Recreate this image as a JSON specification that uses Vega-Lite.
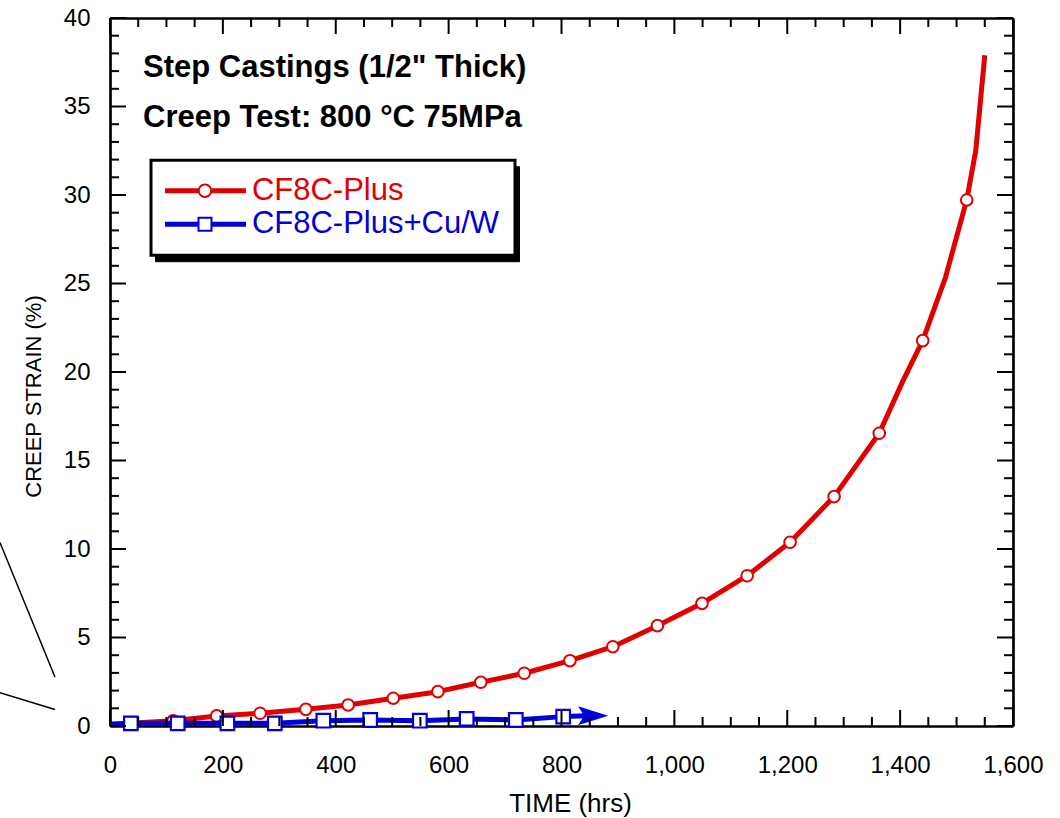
{
  "$schema": "https://vega.github.io/schema/vega-lite/v6.json",
  "width": 903,
  "height": 708,
  "autosize": {"type": "none"},
  "padding": {"left": 110, "top": 18, "right": 47, "bottom": 92},
  "background": "white",
  "config": {
    "view": {"stroke": null},
    "font": "Liberation Sans",
    "axis": {
      "grid": false,
      "domainColor": "black",
      "domainWidth": 2.7,
      "labelFont": "Liberation Sans",
      "labelFontSize": 24,
      "labelColor": "black",
      "titleColor": "black",
      "labelFlush": false,
      "labelOverlap": false
    }
  },
  "datasets": {
    "creep": [
      {"series": "CF8C-Plus", "kind": "line", "time": 0, "strain": 0.08},
      {"series": "CF8C-Plus", "kind": "marker", "time": 112, "strain": 0.3},
      {"series": "CF8C-Plus", "kind": "marker", "time": 189, "strain": 0.57},
      {"series": "CF8C-Plus", "kind": "marker", "time": 266, "strain": 0.72},
      {"series": "CF8C-Plus", "kind": "marker", "time": 347, "strain": 0.94},
      {"series": "CF8C-Plus", "kind": "marker", "time": 422, "strain": 1.19},
      {"series": "CF8C-Plus", "kind": "marker", "time": 502, "strain": 1.57},
      {"series": "CF8C-Plus", "kind": "marker", "time": 581, "strain": 1.94},
      {"series": "CF8C-Plus", "kind": "marker", "time": 657, "strain": 2.47},
      {"series": "CF8C-Plus", "kind": "marker", "time": 734, "strain": 2.98},
      {"series": "CF8C-Plus", "kind": "marker", "time": 815, "strain": 3.69},
      {"series": "CF8C-Plus", "kind": "marker", "time": 891, "strain": 4.48},
      {"series": "CF8C-Plus", "kind": "marker", "time": 970, "strain": 5.67},
      {"series": "CF8C-Plus", "kind": "marker", "time": 1049, "strain": 6.93},
      {"series": "CF8C-Plus", "kind": "marker", "time": 1129, "strain": 8.49},
      {"series": "CF8C-Plus", "kind": "marker", "time": 1205, "strain": 10.38},
      {"series": "CF8C-Plus", "kind": "marker", "time": 1283, "strain": 12.96},
      {"series": "CF8C-Plus", "kind": "marker", "time": 1363, "strain": 16.54},
      {"series": "CF8C-Plus", "kind": "line", "time": 1405, "strain": 19.5},
      {"series": "CF8C-Plus", "kind": "marker", "time": 1440, "strain": 21.77},
      {"series": "CF8C-Plus", "kind": "line", "time": 1480, "strain": 25.3},
      {"series": "CF8C-Plus", "kind": "marker", "time": 1518, "strain": 29.72},
      {"series": "CF8C-Plus", "kind": "line", "time": 1534, "strain": 32.5},
      {"series": "CF8C-Plus", "kind": "line", "time": 1550, "strain": 37.9},
      {"series": "CF8C-Plus+Cu/W", "kind": "line", "time": 0, "strain": 0.1},
      {"series": "CF8C-Plus+Cu/W", "kind": "marker", "time": 37, "strain": 0.15},
      {"series": "CF8C-Plus+Cu/W", "kind": "marker", "time": 120, "strain": 0.15},
      {"series": "CF8C-Plus+Cu/W", "kind": "marker", "time": 208, "strain": 0.15},
      {"series": "CF8C-Plus+Cu/W", "kind": "marker", "time": 292, "strain": 0.15},
      {"series": "CF8C-Plus+Cu/W", "kind": "marker", "time": 378, "strain": 0.3},
      {"series": "CF8C-Plus+Cu/W", "kind": "marker", "time": 461, "strain": 0.34},
      {"series": "CF8C-Plus+Cu/W", "kind": "marker", "time": 549, "strain": 0.3},
      {"series": "CF8C-Plus+Cu/W", "kind": "marker", "time": 632, "strain": 0.4},
      {"series": "CF8C-Plus+Cu/W", "kind": "marker", "time": 719, "strain": 0.34},
      {"series": "CF8C-Plus+Cu/W", "kind": "marker", "time": 803, "strain": 0.53},
      {"series": "CF8C-Plus+Cu/W", "kind": "line", "time": 845, "strain": 0.58},
      {"series": "CF8C-Plus+Cu/W", "kind": "arrow", "time": 856, "strain": 0.58}
    ],
    "tickvalues": [
      {"axis": "x", "value": 0, "major": true}, {"axis": "x", "value": 50, "major": false},
      {"axis": "x", "value": 100, "major": false}, {"axis": "x", "value": 150, "major": false},
      {"axis": "x", "value": 200, "major": true}, {"axis": "x", "value": 250, "major": false},
      {"axis": "x", "value": 300, "major": false}, {"axis": "x", "value": 350, "major": false},
      {"axis": "x", "value": 400, "major": true}, {"axis": "x", "value": 450, "major": false},
      {"axis": "x", "value": 500, "major": false}, {"axis": "x", "value": 550, "major": false},
      {"axis": "x", "value": 600, "major": true}, {"axis": "x", "value": 650, "major": false},
      {"axis": "x", "value": 700, "major": false}, {"axis": "x", "value": 750, "major": false},
      {"axis": "x", "value": 800, "major": true}, {"axis": "x", "value": 850, "major": false},
      {"axis": "x", "value": 900, "major": false}, {"axis": "x", "value": 950, "major": false},
      {"axis": "x", "value": 1000, "major": true}, {"axis": "x", "value": 1050, "major": false},
      {"axis": "x", "value": 1100, "major": false}, {"axis": "x", "value": 1150, "major": false},
      {"axis": "x", "value": 1200, "major": true}, {"axis": "x", "value": 1250, "major": false},
      {"axis": "x", "value": 1300, "major": false}, {"axis": "x", "value": 1350, "major": false},
      {"axis": "x", "value": 1400, "major": true}, {"axis": "x", "value": 1450, "major": false},
      {"axis": "x", "value": 1500, "major": false}, {"axis": "x", "value": 1550, "major": false},
      {"axis": "x", "value": 1600, "major": true},
      {"axis": "y", "value": 0, "major": true}, {"axis": "y", "value": 1, "major": false},
      {"axis": "y", "value": 2, "major": false}, {"axis": "y", "value": 3, "major": false},
      {"axis": "y", "value": 4, "major": false}, {"axis": "y", "value": 5, "major": true},
      {"axis": "y", "value": 6, "major": false}, {"axis": "y", "value": 7, "major": false},
      {"axis": "y", "value": 8, "major": false}, {"axis": "y", "value": 9, "major": false},
      {"axis": "y", "value": 10, "major": true}, {"axis": "y", "value": 11, "major": false},
      {"axis": "y", "value": 12, "major": false}, {"axis": "y", "value": 13, "major": false},
      {"axis": "y", "value": 14, "major": false}, {"axis": "y", "value": 15, "major": true},
      {"axis": "y", "value": 16, "major": false}, {"axis": "y", "value": 17, "major": false},
      {"axis": "y", "value": 18, "major": false}, {"axis": "y", "value": 19, "major": false},
      {"axis": "y", "value": 20, "major": true}, {"axis": "y", "value": 21, "major": false},
      {"axis": "y", "value": 22, "major": false}, {"axis": "y", "value": 23, "major": false},
      {"axis": "y", "value": 24, "major": false}, {"axis": "y", "value": 25, "major": true},
      {"axis": "y", "value": 26, "major": false}, {"axis": "y", "value": 27, "major": false},
      {"axis": "y", "value": 28, "major": false}, {"axis": "y", "value": 29, "major": false},
      {"axis": "y", "value": 30, "major": true}, {"axis": "y", "value": 31, "major": false},
      {"axis": "y", "value": 32, "major": false}, {"axis": "y", "value": 33, "major": false},
      {"axis": "y", "value": 34, "major": false}, {"axis": "y", "value": 35, "major": true},
      {"axis": "y", "value": 36, "major": false}, {"axis": "y", "value": 37, "major": false},
      {"axis": "y", "value": 38, "major": false}, {"axis": "y", "value": 39, "major": false},
      {"axis": "y", "value": 40, "major": true}
    ],
    "callouts": [
      {"t1": -195, "s1": 10.37, "t2": -97.5, "s2": 2.77},
      {"t1": -195, "s1": 1.88, "t2": -97.5, "s2": 0.93}
    ],
    "notes": [
      {"time": 58.5, "strain": 36.67, "label": "Step Castings (1/2\" Thick)"},
      {"time": 58.5, "strain": 33.86, "label": "Creep Test: 800 °C 75MPa"}
    ]
  },
  "layer": [
    {
      "data": {"name": "callouts"},
      "mark": {"type": "rule", "clip": false, "color": "black", "strokeWidth": 1.5},
      "encoding": {
        "x": {"field": "t1", "type": "quantitative", "scale": {"domain": [0, 1600], "nice": false}, "axis": null},
        "y": {"field": "s1", "type": "quantitative", "scale": {"domain": [0, 40], "nice": false}, "axis": null},
        "x2": {"field": "t2"},
        "y2": {"field": "s2"}
      }
    },
    {
      "data": {"name": "creep"},
      "transform": [{"filter": "datum.series == 'CF8C-Plus' && datum.kind != 'arrow'"}],
      "mark": {"type": "line", "color": "#e00000", "strokeWidth": 5, "strokeJoin": "round"},
      "encoding": {
        "x": {
          "field": "time", "type": "quantitative", "scale": {"domain": [0, 1600], "nice": false},
          "axis": {
            "orient": "bottom", "values": [0, 200, 400, 600, 800, 1000, 1200, 1400, 1600],
            "format": ",d", "ticks": false, "domain": true, "labelPadding": 27, "labelFontSize": 24,
            "title": "TIME (hrs)", "titleFontSize": 26, "titleFontWeight": "normal",
            "titleX": 460, "titleY": 85, "titleBaseline": "alphabetic", "titleAlign": "center"
          }
        },
        "y": {
          "field": "strain", "type": "quantitative", "scale": {"domain": [0, 40], "nice": false},
          "axis": {
            "orient": "left", "values": [0, 5, 10, 15, 20, 25, 30, 35, 40],
            "ticks": false, "domain": true, "labelPadding": 20, "labelFontSize": 24,
            "title": "CREEP STRAIN (%)", "titleFont": "Liberation Sans",
            "titleFontSize": 22, "titleFontWeight": "normal", "titleX": -70, "titleY": 378,
            "titleBaseline": "alphabetic", "titleAngle": 270, "titleAlign": "center"
          }
        }
      }
    },
    {
      "data": {"name": "creep"},
      "transform": [{"filter": "datum.series == 'CF8C-Plus' && datum.kind == 'marker'"}],
      "mark": {"type": "point", "shape": "circle", "filled": true, "fill": "white", "stroke": "#e00000", "strokeWidth": 2, "size": 135, "opacity": 1},
      "encoding": {
        "x": {"field": "time", "type": "quantitative", "axis": null},
        "y": {"field": "strain", "type": "quantitative", "axis": null}
      }
    },
    {
      "data": {"name": "creep"},
      "transform": [{"filter": "datum.series == 'CF8C-Plus+Cu/W' && datum.kind != 'arrow'"}],
      "mark": {"type": "line", "color": "#0000d8", "strokeWidth": 5, "strokeJoin": "round"},
      "encoding": {
        "x": {"field": "time", "type": "quantitative", "axis": null},
        "y": {"field": "strain", "type": "quantitative", "axis": null}
      }
    },
    {
      "data": {"name": "creep"},
      "transform": [{"filter": "datum.series == 'CF8C-Plus+Cu/W' && datum.kind == 'marker'"}],
      "mark": {"type": "point", "shape": "square", "filled": true, "fill": "white", "stroke": "#0000d8", "strokeWidth": 2.2, "size": 185, "opacity": 1},
      "encoding": {
        "x": {
          "field": "time", "type": "quantitative", "scale": {"domain": [0, 1600], "nice": false},
          "axis": {"orient": "top", "values": [0, 1600], "labels": false, "domain": true, "ticks": false, "title": null}
        },
        "y": {
          "field": "strain", "type": "quantitative", "scale": {"domain": [0, 40], "nice": false},
          "axis": {"orient": "right", "values": [0, 40], "labels": false, "domain": true, "ticks": false, "title": null}
        }
      }
    },
    {
      "data": {"name": "creep"},
      "transform": [{"filter": "datum.kind == 'arrow'"}],
      "mark": {"type": "point", "shape": "M-1,-0.63L1,0L-1,0.63L-0.6,0Z", "filled": true, "color": "#0000d8", "size": 900, "opacity": 1},
      "encoding": {
        "x": {"field": "time", "type": "quantitative", "axis": null},
        "y": {"field": "strain", "type": "quantitative", "axis": null}
      }
    },
    {
      "data": {"name": "tickvalues"},
      "transform": [{"filter": "datum.axis == 'x' && datum.major"}],
      "mark": {"type": "point", "shape": "M-1,-16H1V0H-1Z", "size": 4, "filled": true, "color": "black", "strokeWidth": 0, "opacity": 1, "clip": false},
      "encoding": {
        "x": {"field": "value", "type": "quantitative", "axis": null},
        "y": {"datum": 0, "type": "quantitative", "axis": null}
      }
    },
    {
      "data": {"name": "tickvalues"},
      "transform": [{"filter": "datum.axis == 'x' && datum.major"}],
      "mark": {"type": "point", "shape": "M-1,0H1V16H-1Z", "size": 4, "filled": true, "color": "black", "strokeWidth": 0, "opacity": 1, "clip": false},
      "encoding": {
        "x": {"field": "value", "type": "quantitative", "axis": null},
        "y": {"datum": 40, "type": "quantitative", "axis": null}
      }
    },
    {
      "data": {"name": "tickvalues"},
      "transform": [{"filter": "datum.axis == 'x' && !datum.major"}],
      "mark": {"type": "point", "shape": "M-1,-9H1V0H-1Z", "size": 4, "filled": true, "color": "black", "strokeWidth": 0, "opacity": 1, "clip": false},
      "encoding": {
        "x": {"field": "value", "type": "quantitative", "axis": null},
        "y": {"datum": 0, "type": "quantitative", "axis": null}
      }
    },
    {
      "data": {"name": "tickvalues"},
      "transform": [{"filter": "datum.axis == 'x' && !datum.major"}],
      "mark": {"type": "point", "shape": "M-1,0H1V9H-1Z", "size": 4, "filled": true, "color": "black", "strokeWidth": 0, "opacity": 1, "clip": false},
      "encoding": {
        "x": {"field": "value", "type": "quantitative", "axis": null},
        "y": {"datum": 40, "type": "quantitative", "axis": null}
      }
    },
    {
      "data": {"name": "tickvalues"},
      "transform": [{"filter": "datum.axis == 'y' && datum.major"}],
      "mark": {"type": "point", "shape": "M0,-1H16V1H0Z", "size": 4, "filled": true, "color": "black", "strokeWidth": 0, "opacity": 1, "clip": false},
      "encoding": {
        "y": {"field": "value", "type": "quantitative", "axis": null},
        "x": {"datum": 0, "type": "quantitative", "axis": null}
      }
    },
    {
      "data": {"name": "tickvalues"},
      "transform": [{"filter": "datum.axis == 'y' && datum.major"}],
      "mark": {"type": "point", "shape": "M-16,-1H0V1H-16Z", "size": 4, "filled": true, "color": "black", "strokeWidth": 0, "opacity": 1, "clip": false},
      "encoding": {
        "y": {"field": "value", "type": "quantitative", "axis": null},
        "x": {"datum": 1600, "type": "quantitative", "axis": null}
      }
    },
    {
      "data": {"name": "tickvalues"},
      "transform": [{"filter": "datum.axis == 'y' && !datum.major"}],
      "mark": {"type": "point", "shape": "M0,-1H9V1H0Z", "size": 4, "filled": true, "color": "black", "strokeWidth": 0, "opacity": 1, "clip": false},
      "encoding": {
        "y": {"field": "value", "type": "quantitative", "axis": null},
        "x": {"datum": 0, "type": "quantitative", "axis": null}
      }
    },
    {
      "data": {"name": "tickvalues"},
      "transform": [{"filter": "datum.axis == 'y' && !datum.major"}],
      "mark": {"type": "point", "shape": "M-9,-1H0V1H-9Z", "size": 4, "filled": true, "color": "black", "strokeWidth": 0, "opacity": 1, "clip": false},
      "encoding": {
        "y": {"field": "value", "type": "quantitative", "axis": null},
        "x": {"datum": 1600, "type": "quantitative", "axis": null}
      }
    },
    {
      "data": {"name": "notes"},
      "mark": {"type": "text", "align": "left", "baseline": "alphabetic", "font": "Liberation Sans", "fontSize": 31, "fontWeight": "bold", "color": "black"},
      "encoding": {
        "x": {"field": "time", "type": "quantitative", "axis": null},
        "y": {"field": "strain", "type": "quantitative", "axis": null},
        "text": {"field": "label"}
      }
    },
    {
      "data": {"name": "creep"},
      "transform": [{"filter": "datum.kind == 'marker'"}],
      "mark": {"type": "point", "filled": true, "opacity": 0},
      "encoding": {
        "x": {"field": "time", "type": "quantitative", "axis": null},
        "y": {"field": "strain", "type": "quantitative", "axis": null},
        "fill": {
          "field": "series", "type": "nominal",
          "scale": {"domain": ["CF8C-Plus", "CF8C-Plus+Cu/W"], "range": ["#e00000", "#0000d8"]},
          "legend": {
            "orient": "none", "legendX": 41, "legendY": 142.2, "zindex": 2, "title": null, "padding": 15,
            "fillColor": "white", "strokeColor": "black", "cornerRadius": 0,
            "labelFont": "Liberation Sans", "labelFontSize": 31, "labelLimit": 400, "labelOffset": 71.4,
            "symbolOffset": -16.5, "symbolSize": 4, "symbolStrokeWidth": 0, "symbolOpacity": 1, "rowPadding": 1.6,
            "encode": {
              "legend": {"update": {"strokeWidth": {"value": 3}}},
              "labels": {"update": {"fill": {"scale": "fill", "field": "value"}}}
            }
          }
        },
        "shape": {
          "field": "series", "type": "nominal",
          "scale": {
            "domain": ["CF8C-Plus", "CF8C-Plus+Cu/W"],
            "range": [
              "M0,-2.5H33.5V2.5H0Z M46.5,-2.5H81V2.5H46.5Z M47.2,0A7.2,7.2 0 1 1 32.8,0A7.2,7.2 0 1 1 47.2,0Z M45.2,0A5.2,5.2 0 1 0 34.8,0A5.2,5.2 0 1 0 45.2,0Z",
              "M0,-2.5H33V2.5H0Z M47,-2.5H81V2.5H47Z M32.5,-7.5H47.5V7.5H32.5Z M34.5,-5.5V5.5H45.5V-5.5Z"
            ]
          },
          "legend": {
            "orient": "none", "legendX": 41, "legendY": 142.2, "zindex": 2, "title": null, "padding": 15,
            "fillColor": "white", "strokeColor": "black", "cornerRadius": 0,
            "labelFont": "Liberation Sans", "labelFontSize": 31, "labelLimit": 400, "labelOffset": 71.4,
            "symbolOffset": -16.5, "symbolSize": 4, "symbolStrokeWidth": 0, "symbolOpacity": 1, "rowPadding": 1.6,
            "encode": {
              "legend": {"update": {"strokeWidth": {"value": 3}}},
              "labels": {"update": {"fill": {"scale": "fill", "field": "value"}}}
            }
          }
        },
        "stroke": {
          "field": "series", "type": "nominal",
          "scale": {"range": ["black", "black"]},
          "legend": {
            "orient": "none", "legendX": 45, "legendY": 148.2, "zindex": 1, "title": null, "padding": 15,
            "fillColor": "black", "strokeColor": "black", "cornerRadius": 0,
            "labelFont": "Liberation Sans", "labelFontSize": 31, "labelLimit": 400, "labelOffset": 71.4,
            "labelExpr": "''",
            "symbolOffset": -16.5, "symbolSize": 4, "symbolStrokeWidth": 0, "symbolOpacity": 0, "labelOpacity": 0,
            "symbolType": "M0,-7.3H335V7.3H0Z",
            "rowPadding": 1.6,
            "encode": {"legend": {"update": {"strokeWidth": {"value": 3}}}}
          }
        }
      }
    }
  ],
  "resolve": {"axis": {"x": "independent", "y": "independent"}}
}
